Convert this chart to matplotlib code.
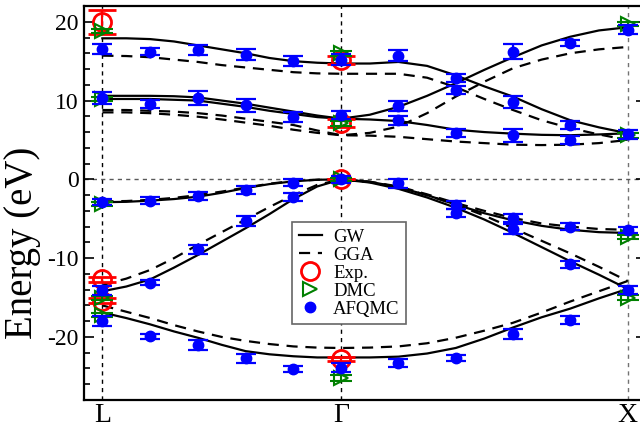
import matplotlib
matplotlib.use("Agg")
import matplotlib.pyplot as plt
from matplotlib.lines import Line2D

plt.rcParams['font.family'] = ['Liberation Serif', 'DejaVu Serif']
plt.rcParams['mathtext.fontset'] = 'stix'

# high-symmetry points along the path L - Gamma - X
sym_pos = [0.0, 1.0, 2.2]
sym_labels = ['L', 'Γ', 'X']

# k-grid for the band lines
k_path = [0.0, 0.1, 0.2, 0.3, 0.4, 0.5, 0.6, 0.7, 0.8, 0.9, 1.0,
          1.12, 1.24, 1.36, 1.48, 1.60, 1.72, 1.84, 1.96, 2.08, 2.2]

# GW bands (eV)
gw_v1 = [-16.9, -17.6, -18.4, -19.3, -20.1, -21.0, -21.8, -22.2, -22.45, -22.6, -22.6,
         -22.6, -22.5, -22.1, -21.4, -20.2, -18.8, -17.5, -16.4, -15.1, -13.9]
gw_v2 = [-14.2, -13.6, -12.7, -11.2, -9.6, -7.9, -6.2, -4.4, -2.5, -0.9, 0.0,
         -0.4, -1.2, -2.3, -3.6, -5.1, -6.8, -8.6, -10.4, -12.1, -13.9]
gw_v3 = [-2.9, -2.85, -2.7, -2.5, -2.2, -1.7, -1.1, -0.6, -0.25, -0.05, 0.0,
         -0.3, -1.0, -2.0, -3.2, -4.3, -5.2, -5.9, -6.4, -6.7, -6.8]
gw_c1 = [10.2, 10.2, 10.2, 10.1, 10.0, 9.6, 9.2, 8.7, 8.3, 7.9, 7.7,
         7.6, 7.4, 6.9, 6.3, 6.0, 5.8, 5.65, 5.6, 5.7, 5.85]
gw_c2 = [10.6, 10.6, 10.6, 10.55, 10.4, 10.0, 9.6, 9.1, 8.6, 8.1, 7.7,
         8.2, 9.2, 10.6, 12.2, 13.9, 15.5, 17.0, 18.1, 18.9, 19.3]
gw_c3 = [17.9, 17.9, 17.8, 17.5, 17.0, 16.5, 16.0, 15.4, 15.0, 14.8, 14.7,
         14.7, 14.9, 14.4, 13.2, 11.8, 10.5, 8.9, 7.5, 6.6, 5.85]

# GGA bands (eV)
gga_v1 = [-16.0, -16.8, -17.6, -18.5, -19.3, -20.0, -20.5, -20.9, -21.2, -21.35, -21.4,
          -21.35, -21.2, -20.8, -20.1, -19.2, -18.2, -16.9, -15.5, -14.2, -12.9]
gga_v2 = [-13.4, -12.6, -11.5, -10.0, -8.3, -6.7, -5.1, -3.5, -2.0, -0.7, 0.0,
          -0.35, -1.0, -2.0, -3.2, -4.6, -6.2, -7.8, -9.4, -11.1, -12.9]
gga_v3 = [-2.8, -2.75, -2.6, -2.35, -2.0, -1.55, -1.05, -0.55, -0.2, -0.05, 0.0,
          -0.3, -0.9, -1.9, -3.0, -4.0, -4.9, -5.6, -6.0, -6.3, -6.4]
gga_c1 = [8.5, 8.5, 8.4, 8.2, 7.95, 7.6, 7.2, 6.8, 6.3, 5.9, 5.6,
          5.55, 5.4, 5.1, 4.8, 4.6, 4.4, 4.35, 4.4, 4.6, 5.0]
gga_c2 = [8.8, 8.8, 8.7, 8.6, 8.4, 8.1, 7.7, 7.3, 6.9, 6.2, 5.6,
          5.9, 6.7, 8.4, 10.5, 12.4, 14.1, 15.2, 16.0, 16.5, 16.8]
gga_c3 = [15.7, 15.65, 15.5, 15.2, 14.9, 14.5, 14.2, 13.9, 13.6, 13.45, 13.4,
          13.4, 13.4, 12.9, 11.7, 10.2, 8.8, 7.5, 6.5, 5.7, 5.0]

gw_bands = [gw_v1, gw_v2, gw_v3, gw_c1, gw_c2, gw_c3]
gga_bands = [gga_v1, gga_v2, gga_v3, gga_c1, gga_c2, gga_c3]

# experiment
exp_k = [0.0, 0.0, 0.0, 1.0, 1.0, 1.0, 1.0]
exp_E = [20.0, -12.7, -15.4, 15.1, 7.1, 0.0, -22.8]
exp_err = [1.5, 0.35, 0.35, 0.5, 0.5, 0.0, 0.3]

# DMC
dmc_k = [0.0, 0.0, 0.0, 0.0, 0.0, 1.0, 1.0, 1.0, 1.0, 2.2, 2.2, 2.2, 2.2]
dmc_E = [18.8, 10.2, -3.1, -15.0, -17.2, 16.0, 7.1, 0.0, -25.2, 19.7, 5.6, -7.3, -15.0]
dmc_err = [0.25, 0.25, 0.25, 0.25, 0.25, 0.3, 0.3, 0.2, 0.4, 0.3, 0.3, 0.3, 0.3]

# AFQMC
afq_k = [0.0, 0.0, 0.0, 0.0, 0.0,
         0.2, 0.2, 0.2, 0.2, 0.2,
         0.4, 0.4, 0.4, 0.4, 0.4,
         0.6, 0.6, 0.6, 0.6, 0.6,
         0.8, 0.8, 0.8, 0.8, 0.8,
         1.0, 1.0, 1.0, 1.0,
         1.24, 1.24, 1.24, 1.24, 1.24,
         1.48, 1.48, 1.48, 1.48, 1.48, 1.48,
         1.72, 1.72, 1.72, 1.72, 1.72, 1.72,
         1.96, 1.96, 1.96, 1.96, 1.96, 1.96,
         2.2, 2.2, 2.2, 2.2]
afq_E = [16.5, 10.3, -2.9, -14.1, -18.0,
         16.2, 9.6, -2.7, -13.1, -19.9,
         16.4, 10.3, -2.1, -8.9, -21.0,
         15.8, 9.4, -1.3, -5.3, -22.7,
         15.0, 7.9, -0.4, -2.2, -24.1,
         15.2, 8.2, 0.0, -23.9,
         15.7, 9.3, 7.5, -0.5, -23.3,
         12.9, 11.3, 5.9, -3.2, -4.3, -22.7,
         16.2, 9.85, 5.6, -4.9, -6.3, -19.6,
         17.3, 6.9, 5.0, -6.0, -10.8, -17.8,
         19.0, 5.7, -6.4, -14.0]
afq_err = [0.63, 0.8, 0.4, 0.6, 0.6,
           0.47, 0.53, 0.4, 0.3, 0.3,
           0.67, 0.9, 0.5, 0.6, 0.6,
           0.7, 0.85, 0.5, 0.6, 0.6,
           0.6, 0.68, 0.5, 0.5, 0.4,
           0.7, 0.5, 0.4, 0.6,
           0.7, 0.63, 0.57, 0.6, 0.5,
           0.53, 0.5, 0.53, 0.5, 0.5, 0.4,
           0.93, 0.76, 0.85, 0.5, 0.6, 0.6,
           0.42, 0.5, 0.5, 0.4, 0.4, 0.5,
           0.53, 0.6, 0.4, 0.5]

fig = plt.figure(figsize=(6.4, 4.32), dpi=100)
ax = fig.add_axes([84 / 640, 32 / 432, 562 / 640, 394 / 432])

ax.set_xlim(-0.077, 2.277)
ax.set_ylim(-28, 22)

# guides
for xp, col in zip(sym_pos, ['black', 'black', '0.45']):
    ax.axvline(xp, color=col, lw=1.0, ls=(0, (3, 3)), zorder=1)
ax.axhline(0, color='0.35', lw=1.0, ls=(0, (3, 3)), zorder=1)

for b in gw_bands:
    ax.plot(k_path, b, color='black', lw=1.6, zorder=2)
for b in gga_bands:
    ax.plot(k_path, b, color='black', lw=1.6, ls=(0, (5, 3.5)), zorder=2)

ax.errorbar(exp_k, exp_E, yerr=exp_err, fmt='o', ms=13, mfc='none', mec='red',
            mew=2, ecolor='red', elinewidth=1.6, capsize=10, capthick=1.6, zorder=4)
ax.errorbar(dmc_k, dmc_E, yerr=dmc_err, fmt='>', ms=10, mfc='none', mec='green',
            mew=1.5, ecolor='green', elinewidth=1.5, capsize=8, capthick=1.5, zorder=5)
ax.errorbar(afq_k, afq_E, yerr=afq_err, fmt='o', ms=7.5, mfc='blue', mec='blue',
            ecolor='blue', elinewidth=1.6, capsize=7, capthick=1.6, zorder=6)

ax.set_xticks(sym_pos)
ax.set_xticklabels(sym_labels, fontsize=20)
ax.tick_params(axis='x', length=0, pad=2)
ax.set_yticks([20, 10, 0, -10, -20])
ax.set_yticklabels(['20', '10', '0', '-10', '-20'])
ax.set_yticks(range(-28, 23, 2), minor=True)
ax.tick_params(axis='y', which='major', direction='in', length=7, width=1.2,
               labelsize=17, right=True, pad=4)
ax.tick_params(axis='y', which='minor', direction='in', length=4, width=1.2, right=True)
ax.set_ylabel('Energy (eV)', fontsize=28)
ax.yaxis.set_label_coords(-0.077, 0.40)
for s in ax.spines.values():
    s.set_linewidth(1.6)

handles = [
    Line2D([], [], color='black', lw=1.6),
    Line2D([], [], color='black', lw=1.6, ls=(0, (5, 3.5))),
    Line2D([], [], ls='none', marker='o', ms=13, mfc='none', mec='red', mew=2),
    Line2D([], [], ls='none', marker='>', ms=10, mfc='none', mec='green', mew=1.5),
    Line2D([], [], ls='none', marker='o', ms=7.5, mfc='blue', mec='blue'),
]
leg = ax.legend(handles, ['GW', 'GGA', 'Exp.', 'DMC', 'AFQMC'],
                loc='upper left', bbox_to_anchor=(0.370, 0.452), borderaxespad=0,
                fontsize=13.5, fancybox=False, framealpha=1, edgecolor='0.4',
                labelspacing=0.05, handlelength=1.25, handletextpad=0.6,
                borderpad=0.35)
leg.get_frame().set_linewidth(1.2)
leg.set_zorder(3)

fig.savefig('out.png', dpi=100)
